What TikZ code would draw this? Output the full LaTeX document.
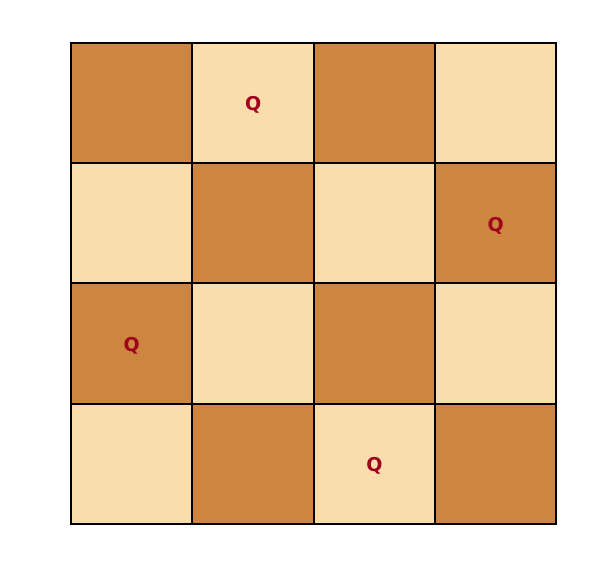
\documentclass[tikz,border=0pt]{standalone}
\usepackage{fontspec}
\setmainfont{DejaVu Sans}
\definecolor{darksq}{HTML}{CD853F}
\definecolor{lightsq}{HTML}{F9DEAC}
\definecolor{queen}{HTML}{A0001C}
\begin{document}
\begin{tikzpicture}[x=1pt,y=-1pt,
  sq/.style={draw=none,minimum width=121.25pt,minimum height=120.25pt,inner sep=0pt,anchor=north west},
  dk/.style={sq,fill=darksq},
  lt/.style={sq,fill=lightsq},
  gridline/.style={draw=black,line width=2pt,line cap=rect},
  qn/.style={text=queen,inner sep=0pt,font=\bfseries\fontsize{19}{21}\selectfont}]
\useasboundingbox (0,0) rectangle (595,569);
\foreach \r in {0,1,2,3}{
  \foreach \c in {0,1,2,3}{
    \pgfmathtruncatemacro{\parity}{mod(\r+\c,2)}
    \ifnum\parity=0
      \node[dk] (s\r\c) at ({71+121.25*\c},{43+120.25*\r}) {};
    \else
      \node[lt] (s\r\c) at ({71+121.25*\c},{43+120.25*\r}) {};
    \fi
  }
}
\foreach \i in {0,1,2,3}{
  \draw[gridline] (s0\i.north west) -- (s3\i.south west);
  \draw[gridline] (s\i0.north west) -- (s\i3.north east);
}
\draw[gridline] (s03.north east) -- (s33.south east);
\draw[gridline] (s30.south west) -- (s33.south east);
\node[qn] (q0) at ([yshift=-2pt]s01.center) {Q};
\node[qn] (q1) at ([yshift=-2pt]s13.center) {Q};
\node[qn] (q2) at ([yshift=-2pt]s20.center) {Q};
\node[qn] (q3) at ([yshift=-2pt]s32.center) {Q};
\end{tikzpicture}
\end{document}
